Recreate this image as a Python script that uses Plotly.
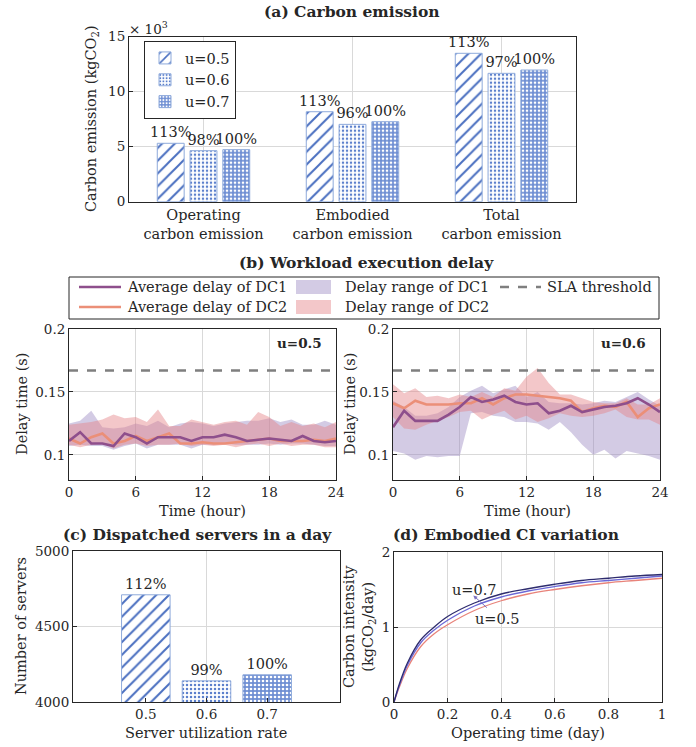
import plotly.graph_objects as go

W, H = 696, 747
def px(x): return x / W
def py(y): return 1 - y / H

FONT = "DejaVu Serif"
FS = 13.5      # tick labels
FT = 14.5      # other texts
TS = 15.5      # panel titles
TXT = "#262626"
GRID = "#d9d9d9"

# ---------------- data ----------------
# (a) carbon emission (x10^3 kgCO2)
cats_a = ["Operating<br>carbon emission", "Embodied<br>carbon emission", "Total<br>carbon emission"]
u_names = ["u=0.5", "u=0.6", "u=0.7"]
em_u05 = [5.31, 8.18, 13.49]
em_u06 = [4.64, 7.03, 11.67]
em_u07 = [4.73, 7.27, 11.97]
pct_u05 = ["113%", "113%", "113%"]
pct_u06 = ["98%", "96%", "97%"]
pct_u07 = ["100%", "100%", "100%"]

# (b) workload delay
hours = list(range(25))
sla = 0.167
u05_dc1_avg = [0.111,0.118,0.109,0.109,0.107,0.117,0.114,0.109,0.114,0.114,0.114,0.111,0.114,0.114,0.116,0.114,0.111,0.112,0.113,0.112,0.111,0.115,0.111,0.110,0.111]
u05_dc2_avg = [0.113,0.109,0.114,0.117,0.109,0.111,0.115,0.111,0.114,0.117,0.109,0.109,0.110,0.109,0.109,0.110,0.111,0.112,0.113,0.111,0.111,0.111,0.112,0.111,0.113]
u05_dc1_hi = [0.125,0.127,0.135,0.122,0.121,0.122,0.125,0.123,0.127,0.122,0.125,0.126,0.125,0.123,0.125,0.126,0.127,0.127,0.129,0.126,0.128,0.124,0.124,0.127,0.124]
u05_dc1_lo = [0.107,0.108,0.107,0.107,0.104,0.107,0.109,0.105,0.108,0.108,0.108,0.105,0.108,0.108,0.109,0.108,0.108,0.108,0.109,0.108,0.109,0.109,0.108,0.107,0.107]
u05_dc2_hi = [0.124,0.125,0.126,0.128,0.132,0.129,0.130,0.126,0.136,0.123,0.123,0.128,0.126,0.124,0.126,0.127,0.124,0.134,0.130,0.123,0.126,0.123,0.125,0.122,0.126]
u05_dc2_lo = [0.108,0.106,0.108,0.109,0.105,0.108,0.109,0.107,0.108,0.108,0.109,0.107,0.108,0.107,0.108,0.106,0.108,0.109,0.107,0.109,0.107,0.108,0.108,0.106,0.106]

u06_dc1_avg = [0.122,0.135,0.127,0.127,0.127,0.132,0.138,0.146,0.142,0.144,0.147,0.142,0.140,0.141,0.133,0.135,0.139,0.134,0.136,0.138,0.139,0.141,0.145,0.140,0.134]
u06_dc2_avg = [0.141,0.137,0.143,0.140,0.140,0.140,0.141,0.141,0.145,0.140,0.145,0.148,0.148,0.147,0.146,0.145,0.143,0.134,0.137,0.139,0.138,0.142,0.130,0.137,0.140]
u06_dc1_hi = [0.143,0.138,0.131,0.131,0.133,0.138,0.146,0.151,0.155,0.149,0.152,0.155,0.146,0.150,0.142,0.141,0.141,0.140,0.141,0.143,0.142,0.146,0.150,0.144,0.139]
u06_dc1_lo = [0.103,0.101,0.096,0.099,0.098,0.099,0.099,0.133,0.134,0.131,0.130,0.126,0.126,0.125,0.120,0.126,0.118,0.108,0.100,0.104,0.097,0.103,0.101,0.099,0.096]
u06_dc2_hi = [0.156,0.149,0.153,0.146,0.147,0.145,0.148,0.146,0.150,0.146,0.153,0.151,0.162,0.169,0.157,0.148,0.148,0.145,0.142,0.141,0.141,0.145,0.140,0.140,0.145]
u06_dc2_lo = [0.130,0.121,0.120,0.124,0.127,0.130,0.134,0.135,0.128,0.132,0.135,0.128,0.131,0.126,0.129,0.133,0.131,0.130,0.131,0.133,0.136,0.130,0.128,0.128,0.124]

# (c) dispatched servers
util = [0.5, 0.6, 0.7]
util_labels = ["0.5", "0.6", "0.7"]
servers = [4710, 4140, 4180]
pct_servers = ["112%", "99%", "100%"]

# (d) embodied CI variation
op_time = [0, 0.02, 0.05, 0.1, 0.15, 0.2, 0.3, 0.4, 0.5, 0.6, 0.7, 0.8, 0.9, 1.0]
ci_u07 = [0, 0.24, 0.52, 0.83, 1.00, 1.14, 1.32, 1.44, 1.51, 1.57, 1.62, 1.65, 1.68, 1.70]
ci_u06 = [0, 0.22, 0.49, 0.79, 0.96, 1.09, 1.28, 1.40, 1.48, 1.54, 1.59, 1.62, 1.65, 1.68]
ci_u05 = [0, 0.20, 0.45, 0.74, 0.91, 1.03, 1.22, 1.35, 1.44, 1.50, 1.55, 1.59, 1.62, 1.65]

# ---------------- styles ----------------
BLUE = "#4a6fc0"
EDGE = "#8eaadb"
pat_shape = ["/", ".", "."]
pat_fg = [BLUE, "#5b7fcc", "#ffffff"]
pat_bg = ["#ffffff", "#ffffff", "#6f8fd3"]
pat_size = [9, 4, 4]
pat_sol = [0.22, 0.3, 0.35]

def marker(i):
    return dict(color=pat_bg[i], line=dict(color=EDGE, width=1),
                pattern=dict(shape=pat_shape[i], fgcolor=pat_fg[i], bgcolor=pat_bg[i],
                             size=pat_size[i], solidity=pat_sol[i], fillmode="replace"))

PURPLE = "#8e4f8c"
ORANGE = "#eb8f78"
LAV = "rgba(150,130,190,0.42)"
PINK = "rgba(228,130,135,0.45)"

fig = go.Figure()

# ---------------- (a) ----------------
xa = [1, 2, 3]
for i, (vals, pct) in enumerate([(em_u05, pct_u05), (em_u06, pct_u06), (em_u07, pct_u07)]):
    fig.add_trace(go.Bar(
        x=xa, y=vals, name=u_names[i], text=pct, textposition="outside", constraintext="none",
        textfont=dict(family=FONT, size=FT, color=TXT), cliponaxis=False,
        marker=marker(i), xaxis="x", yaxis="y", legend="legend", showlegend=True))

# ---------------- (b) ----------------
def band_traces(xax, yax, lo, hi, color):
    fig.add_trace(go.Scatter(x=hours, y=lo, mode="lines", line=dict(width=0, color=color),
                             showlegend=False, hoverinfo="skip", xaxis=xax, yaxis=yax))
    fig.add_trace(go.Scatter(x=hours, y=hi, mode="lines", line=dict(width=0, color=color),
                             fill="tonexty", fillcolor=color, showlegend=False,
                             hoverinfo="skip", xaxis=xax, yaxis=yax))

for xax, yax, d1a, d2a, d1h, d1l, d2h, d2l in [
        ("x2", "y2", u05_dc1_avg, u05_dc2_avg, u05_dc1_hi, u05_dc1_lo, u05_dc2_hi, u05_dc2_lo),
        ("x3", "y3", u06_dc1_avg, u06_dc2_avg, u06_dc1_hi, u06_dc1_lo, u06_dc2_hi, u06_dc2_lo)]:
    band_traces(xax, yax, d1l, d1h, LAV)
    band_traces(xax, yax, d2l, d2h, PINK)
    fig.add_trace(go.Scatter(x=[hours[0], hours[-1]], y=[sla, sla], mode="lines",
                             line=dict(color="#7f7f7f", width=2.6, dash="dash"),
                             showlegend=False, xaxis=xax, yaxis=yax))
    fig.add_trace(go.Scatter(x=hours, y=d2a, mode="lines", line=dict(color=ORANGE, width=2.6),
                             showlegend=False, xaxis=xax, yaxis=yax))
    fig.add_trace(go.Scatter(x=hours, y=d1a, mode="lines", line=dict(color=PURPLE, width=2.6),
                             showlegend=False, xaxis=xax, yaxis=yax))

# ---------------- (c) ----------------
for i in range(3):
    fig.add_trace(go.Bar(
        x=[util[i]], y=[servers[i]], width=0.08, offset=-0.04, text=[pct_servers[i]],
        textposition="outside", constraintext="none",
        textfont=dict(family=FONT, size=FT, color=TXT), cliponaxis=False,
        marker=marker(i), showlegend=False, xaxis="x4", yaxis="y4"))

# ---------------- (d) ----------------
for vals, col in [(ci_u05, "#e8837a"), (ci_u06, "#6c68d6"), (ci_u07, "#2e2c6e")]:
    fig.add_trace(go.Scatter(x=op_time, y=vals, mode="lines", line=dict(color=col, width=1.3, shape="spline"),
                             showlegend=False, xaxis="x5", yaxis="y5"))

# ---------------- axes ----------------
def ax(domain, anchor, **kw):
    d = dict(domain=domain, anchor=anchor, showline=True, linecolor="#262626", linewidth=1,
             mirror=True, ticks="inside", ticklen=4, tickcolor="#262626",
             tickfont=dict(family=FONT, size=FS, color=TXT), showgrid=True, gridcolor=GRID,
             gridwidth=1, zeroline=False, automargin=False)
    d.update(kw)
    return d

yb_dom = [py(480), py(329)]
layout = dict(
    width=W, height=H, margin=dict(l=0, r=0, t=0, b=0, pad=0, autoexpand=False),
    paper_bgcolor="white", plot_bgcolor="white",
    font=dict(family=FONT, size=FT, color=TXT),
    barmode="group", bargap=0.34, bargroupgap=0.18,
    xaxis=ax([px(129), px(576)], "y", range=[0.5, 3.5], tickvals=xa, ticktext=cats_a, ticklen=0,
             tickfont=dict(family=FONT, size=FT, color=TXT)),
    yaxis=ax([py(201.7), py(36.7)], "x", range=[0, 15], tickvals=[0, 5, 10, 15]),
    xaxis2=ax([px(69), px(336)], "y2", range=[0, 24], tickvals=[0, 6, 12, 18, 24]),
    yaxis2=ax(yb_dom, "x2", range=[0.08, 0.2], tickvals=[0.1, 0.15, 0.2], ticktext=["0.1", "0.15", "0.2"]),
    xaxis3=ax([px(393), px(660)], "y3", range=[0, 24], tickvals=[0, 6, 12, 18, 24]),
    yaxis3=ax(yb_dom, "x3", range=[0.08, 0.2], tickvals=[0.1, 0.15, 0.2], ticktext=["0.1", "0.15", "0.2"]),
    xaxis4=ax([px(73), px(340)], "y4", range=[0.38, 0.82], tickvals=util, ticktext=util_labels, showgrid=False),
    yaxis4=ax([py(702), py(551)], "x4", range=[4000, 5000], tickvals=[4000, 4500, 5000]),
    xaxis5=ax([px(394), px(662)], "y5", range=[0, 1], tickvals=[0, 0.2, 0.4, 0.6, 0.8, 1], ticktext=["0", "0.2", "0.4", "0.6", "0.8", "1"]),
    yaxis5=ax([py(702), py(552)], "x5", range=[0, 2], tickvals=[0, 1, 2]),
    legend=dict(x=px(144), y=py(41), xanchor="left", yanchor="top", bgcolor="white",
                bordercolor="#262626", borderwidth=1, font=dict(family=FONT, size=FT, color=TXT),
                tracegroupgap=0, itemwidth=30, traceorder="normal"),
)
fig.update_layout(**layout)

# gridline at 0.6 in panel (c)
shapes = [dict(type="line", xref="x4", yref="y4 domain", x0=0.6, x1=0.6, y0=0, y1=1,
               line=dict(color=GRID, width=1), layer="below")]

# manual legend for (b)
shapes.append(dict(type="rect", xref="paper", yref="paper", x0=px(69), x1=px(659), y0=py(319), y1=py(277),
                   line=dict(color="#262626", width=1), fillcolor="white"))
r1, r2 = 287, 307
shapes += [
    dict(type="line", xref="paper", yref="paper", x0=px(79), x1=px(121), y0=py(r1), y1=py(r1), line=dict(color=PURPLE, width=2.6)),
    dict(type="line", xref="paper", yref="paper", x0=px(79), x1=px(121), y0=py(r2), y1=py(r2), line=dict(color=ORANGE, width=2.6)),
    dict(type="rect", xref="paper", yref="paper", x0=px(296), x1=px(331), y0=py(r1 + 7), y1=py(r1 - 7), line=dict(width=0), fillcolor=LAV),
    dict(type="rect", xref="paper", yref="paper", x0=px(296), x1=px(331), y0=py(r2 + 7), y1=py(r2 - 7), line=dict(width=0), fillcolor=PINK),
    dict(type="line", xref="paper", yref="paper", x0=px(500), x1=px(541), y0=py(r1), y1=py(r1), line=dict(color="#7f7f7f", width=2.6, dash="dash")),
]
fig.update_layout(shapes=shapes)

ann = []
def A(text, x, y, size=FT, xanchor="center", yanchor="middle", **kw):
    d = dict(text=text, x=px(x), y=py(y), xref="paper", yref="paper", showarrow=False,
             xanchor=xanchor, yanchor=yanchor, font=dict(family=FONT, size=size, color=TXT))
    d.update(kw)
    ann.append(d)

# titles
A("<b>(a) Carbon emission</b>", 352, 12, size=TS)
A("<b>(b) Workload execution delay</b>", 366, 263, size=TS)
A("<b>(c) Dispatched servers in a day</b>", 197, 534, size=TS)
A("<b>(d) Embodied CI variation</b>", 506, 534, size=TS)
# (a)
A("× 10<sup>3</sup>", 127, 28, size=FS, xanchor="left")
A("Carbon emission (kgCO<sub>2</sub>)", 92, 119, textangle=-90)
# (b) legend texts
A("Average delay of DC1", 125, r1, xanchor="left")
A("Average delay of DC2", 125, r2, xanchor="left")
A("Delay range of DC1", 343, r1, xanchor="left")
A("Delay range of DC2", 343, r2, xanchor="left")
A("SLA threshold", 545, r1, xanchor="left")
# (b) axes texts
A("Delay time (s)", 22, 404, textangle=-90)
A("Delay time (s)", 350, 404, textangle=-90)
A("Time (hour)", 202, 511)
A("Time (hour)", 527, 511)
A("<b>u=0.5</b>", 324, 343, size=FS, xanchor="right")
A("<b>u=0.6</b>", 648, 343, size=FS, xanchor="right")
# (c)
A("Number of servers", 21, 626, textangle=-90)
A("Server utilization rate", 206, 733)
# (d)
A("Carbon intensity<br>(kgCO<sub>2</sub>/day)", 359, 627, textangle=-90)
A("Operating time (day)", 528, 733)
fig.update_layout(annotations=ann)
fig.add_annotation(x=0.3, y=1.5, xref="x5", yref="y5", text="u=0.7", showarrow=False,
                   font=dict(family=FONT, size=FT, color=TXT))
fig.add_annotation(x=0.385, y=1.11, xref="x5", yref="y5", text="u=0.5", showarrow=False,
                   font=dict(family=FONT, size=FT, color=TXT))
fig.add_annotation(x=0.296, y=1.42, ax=0.352, ay=1.24, xref="x5", yref="y5", axref="x5", ayref="y5",
                   text="", showarrow=True, arrowhead=2, arrowsize=0.8, arrowwidth=1, arrowcolor="#7a6fc0")

fig.write_html("out.html", config={"displayModeBar": False},
               post_script="document.body.style.margin='0px';document.body.style.padding='0px';")
